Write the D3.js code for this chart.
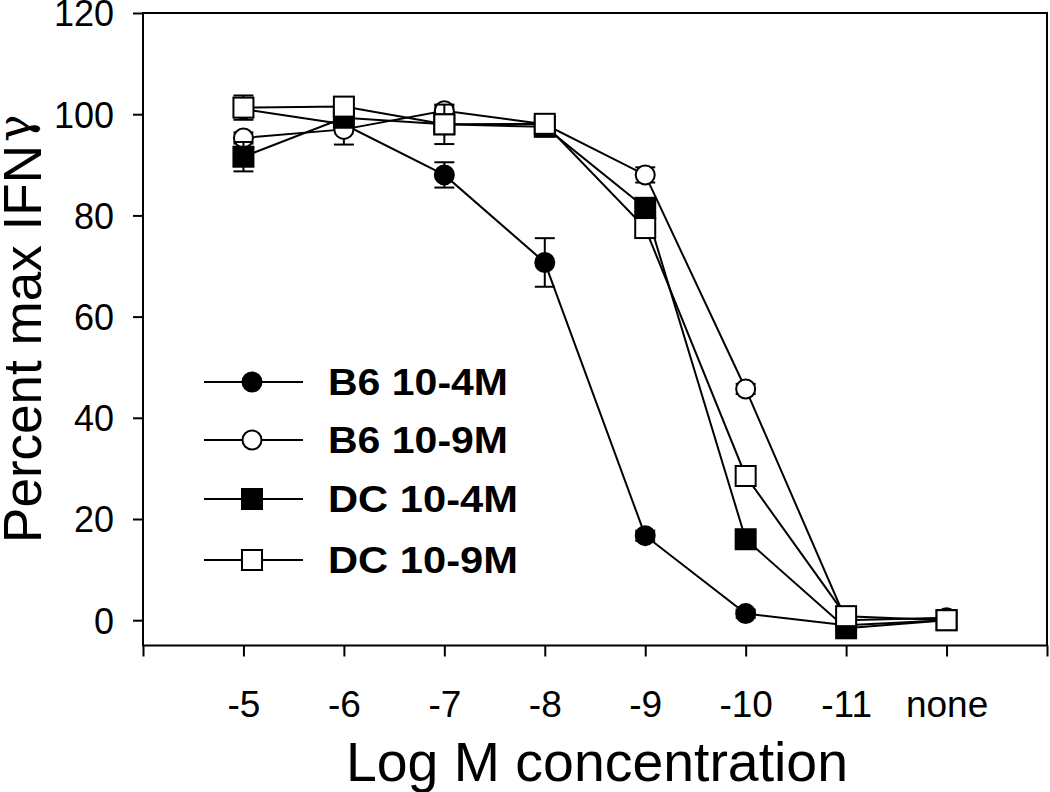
<!DOCTYPE html>
<html>
<head>
<meta charset="utf-8">
<script src="https://cdn.jsdelivr.net/npm/d3@7"></script>
<style>
  html, body { margin: 0; padding: 0; background: #fff; }
  svg { display: block; }
  text { font-family: "Liberation Sans", Arial, sans-serif; fill: #000; }
</style>
</head>
<body>
<svg id="chart" width="1050" height="792"></svg>
<script>
// ---- data ----
const categories = ["-5", "-6", "-7", "-8", "-9", "-10", "-11", "none"];
const yTicks = [0, 20, 40, 60, 80, 100, 120];
const seriesNames = ["B6 10-4M", "B6 10-9M", "DC 10-4M", "DC 10-9M"];
const b6_4M     = [101.0, 98.0, 88.0, 70.7, 16.7, 1.3, -1.0, 0.0];
const b6_4M_err = [1.0, 1.0, 2.5, 4.8, 1.0, 0.8, 0.5, 0.5];
const b6_9M     = [95.3, 97.0, 100.7, 98.0, 88.0, 45.7, 0.0, 0.5];
const b6_9M_err = [1.1, 3.0, 1.0, 0.5, 1.5, 1.0, 0.5, 0.5];
const dc_4M     = [91.6, 99.3, 98.0, 97.5, 81.5, 16.0, -1.6, 0.0];
const dc_4M_err = [2.9, 1.0, 1.0, 0.5, 1.0, 0.5, 0.5, 0.5];
const dc_9M     = [101.3, 101.5, 98.0, 98.1, 77.5, 28.5, 0.8, 0.0];
const dc_9M_err = [2.4, 1.0, 3.9, 0.5, 1.0, 1.0, 0.5, 0.5];

const series = [
  {name: seriesNames[0], values: b6_4M, errs: b6_4M_err, shape: "circle", fill: "#000"},
  {name: seriesNames[1], values: b6_9M, errs: b6_9M_err, shape: "circle", fill: "#fff"},
  {name: seriesNames[2], values: dc_4M, errs: dc_4M_err, shape: "square", fill: "#000"},
  {name: seriesNames[3], values: dc_9M, errs: dc_9M_err, shape: "square", fill: "#fff"}
];

// ---- layout ----
const svg = d3.select("#chart");
const pLeft = 143, pRight = 1047, pTop = 13, pBottom = 645.5;
const x = d3.scaleLinear().domain([0, categories.length + 1]).range([pLeft, pRight]);
const y = d3.scaleLinear().domain([-5, 120]).range([pBottom, pTop]);
const xPos = i => x(i + 1);

// frame
svg.append("rect")
  .attr("x", pLeft).attr("y", pTop)
  .attr("width", pRight - pLeft).attr("height", pBottom - pTop)
  .attr("fill", "none").attr("stroke", "#000").attr("stroke-width", 2);

// y axis
const yAxis = svg.append("g").attr("transform", `translate(${pLeft},0)`)
  .call(d3.axisLeft(y).tickValues(yTicks).tickSize(10).tickPadding(19).tickFormat(d3.format("d")));
yAxis.select(".domain").remove();
yAxis.selectAll("line").attr("stroke", "#000").attr("stroke-width", 2);
yAxis.selectAll("text").style("font-size", "36px").style("font-family", "Liberation Sans, Arial, sans-serif").attr("dy", "0.36em");

// x axis (ticks at frame edges and every category)
const xTickVals = d3.range(0, categories.length + 2);
const xAxis = svg.append("g").attr("transform", `translate(0,${pBottom})`)
  .call(d3.axisBottom(x).tickValues(xTickVals).tickSize(11)
    .tickFormat(d => (d >= 1 && d <= categories.length) ? categories[d - 1] : ""));
xAxis.select(".domain").remove();
xAxis.selectAll("line").attr("stroke", "#000").attr("stroke-width", 2);
xAxis.selectAll("text").style("font-size", "37px").style("font-family", "Liberation Sans, Arial, sans-serif")
  .attr("y", 0).attr("dy", 0).attr("transform", "translate(0,71.5)");

// axis titles
svg.append("text")
  .attr("x", 597).attr("y", 781)
  .attr("text-anchor", "middle")
  .attr("textLength", 502).attr("lengthAdjust", "spacingAndGlyphs")
  .style("font-size", "56px")
  .text("Log M concentration");

const yt = svg.append("text")
  .attr("transform", "translate(41,543) rotate(-90)")
  .attr("text-anchor", "start")
  .style("font-size", "53px");
yt.append("tspan").attr("textLength", 398).attr("lengthAdjust", "spacingAndGlyphs").text("Percent max IFN");
yt.append("tspan").attr("dy", -11).attr("dx", 3).style("font-size", "46px")
  .style("font-family", "DejaVu Serif, serif").text("γ");

// ---- data marks ----
const line = d3.line().x((d, i) => xPos(i)).y(d => y(d));
const plot = svg.append("g");
function drawMarker(g, shape, fill, cx, cy) {
  if (shape === "circle") {
    g.append("circle").attr("cx", cx).attr("cy", cy).attr("r", 9.5)
      .attr("fill", fill).attr("stroke", "#000").attr("stroke-width", 2);
  } else {
    g.append("rect").attr("x", cx - 10).attr("y", cy - 10).attr("width", 20).attr("height", 20)
      .attr("fill", fill).attr("stroke", "#000").attr("stroke-width", 2);
  }
}
series.forEach(s => {
  const g = plot.append("g");
  g.append("path").datum(s.values).attr("d", line)
    .attr("fill", "none").attr("stroke", "#000").attr("stroke-width", 2);
  s.values.forEach((v, i) => {
    const cx = xPos(i), e = s.errs[i];
    const y1 = y(v + e), y2 = y(v - e);
    g.append("line").attr("x1", cx).attr("x2", cx).attr("y1", y1).attr("y2", y2)
      .attr("stroke", "#000").attr("stroke-width", 2);
    [y1, y2].forEach(yy => g.append("line").attr("x1", cx - 10).attr("x2", cx + 10)
      .attr("y1", yy).attr("y2", yy).attr("stroke", "#000").attr("stroke-width", 2));
  });
  s.values.forEach((v, i) => drawMarker(g, s.shape, s.fill, xPos(i), y(v)));
});

// ---- legend ----
const legendY = [382, 440, 499, 560];
const legendTextWidth = [180, 180, 190, 190];
const leg = svg.append("g");
series.forEach((s, i) => {
  const ly = legendY[i];
  leg.append("line").attr("x1", 204).attr("x2", 303).attr("y1", ly).attr("y2", ly)
    .attr("stroke", "#000").attr("stroke-width", 2);
  drawMarker(leg, s.shape, s.fill, 252, ly);
  leg.append("text").attr("x", 328).attr("y", ly + 13)
    .attr("textLength", legendTextWidth[i]).attr("lengthAdjust", "spacingAndGlyphs")
    .style("font-size", "37px").style("font-weight", "bold")
    .text(s.name);
});
</script>
</body>
</html>
